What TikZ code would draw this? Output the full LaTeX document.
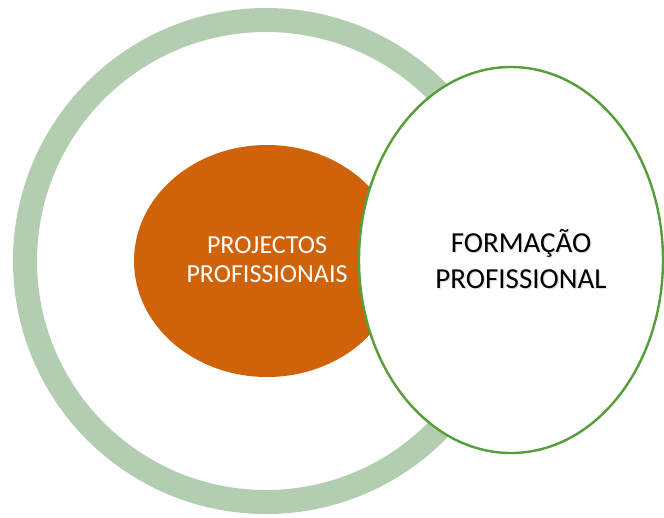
\documentclass[tikz,border=0pt]{standalone}
\usepackage{fontspec}
\setmainfont{Carlito}
\usetikzlibrary{shapes.geometric}
\definecolor{ringgreen}{RGB}{179,205,176}
\definecolor{orangefill}{RGB}{208,99,9}
\definecolor{edgegreen}{RGB}{86,158,56}
\tikzset{
  ring/.style={draw=ringgreen, line width=24pt},
  inner/.style={ellipse, fill=orangefill, draw=none, inner sep=0pt},
  outerell/.style={ellipse, fill=white, draw=edgegreen, line width=2.4pt, inner sep=0pt},
  whitelabel/.style={text=white, align=center, font=\fontsize{26}{29}\selectfont},
  blacklabel/.style={text=black, align=center, font=\fontsize{29}{36}\selectfont},
}
\begin{document}
\begin{tikzpicture}[x=1pt,y=-1pt]
\useasboundingbox (0,0) rectangle (664,517);
\fill[white] (0,0) rectangle (664,517);
\draw[ring] (266,261) circle[radius=241];
\node[inner, minimum width=266pt, minimum height=232pt] (proj) at (267,261) {};
\node[outerell, minimum width=304pt, minimum height=386pt] (form) at (511,260) {};
\node[whitelabel, anchor=base] (projlabel) at (267,282) {PROJECTOS\\PROFISSIONAIS};
\node[blacklabel, anchor=base, text=black!20, opacity=0.6] (formshadow) at (522.2,289.2) {FORMAÇÃO\\PROFISSIONAL};
\node[blacklabel, anchor=base] (formlabel) at (521,288) {FORMAÇÃO\\PROFISSIONAL};
\end{tikzpicture}
\end{document}
